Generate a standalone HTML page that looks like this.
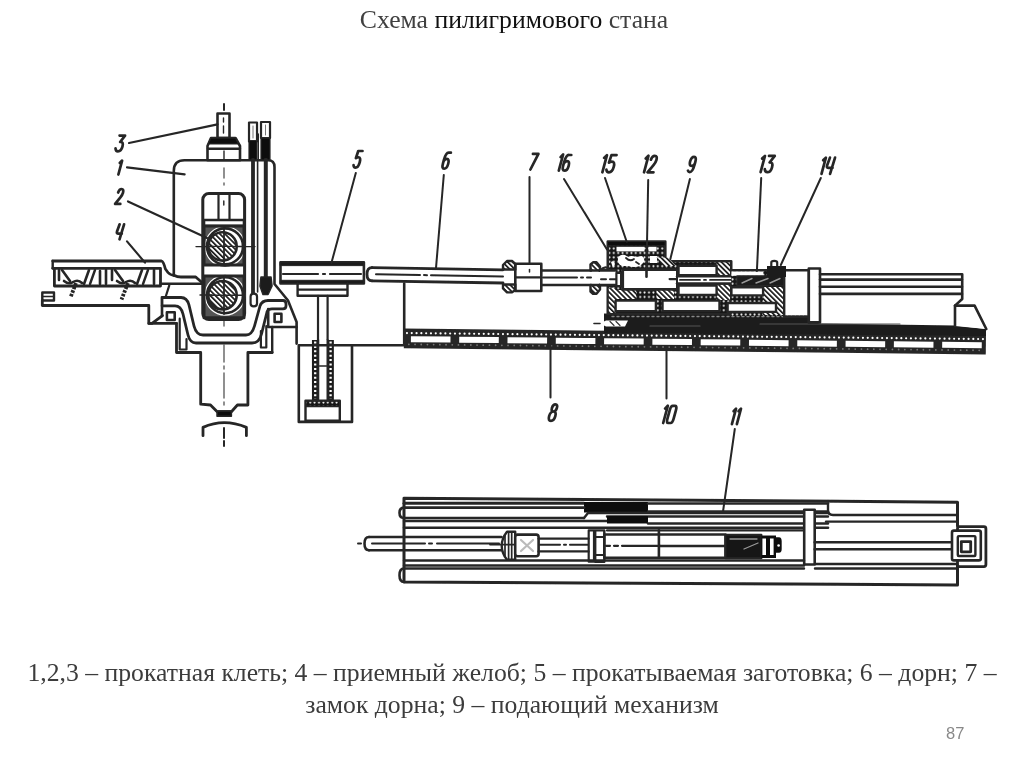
<!DOCTYPE html>
<html><head><meta charset="utf-8">
<style>
html,body{margin:0;padding:0;background:#fff;}
body{width:1024px;height:767px;position:relative;overflow:hidden;}
.t{position:absolute;left:0;width:1024px;will-change:transform;text-align:center;font-family:"Liberation Serif",serif;white-space:nowrap;}
#title{top:5px;font-size:25.7px;color:#404040;left:2px;}
#title b{font-weight:normal;color:#111;}
#cap{top:656.6px;font-size:25.7px;line-height:31.7px;color:#3c3c3c;}
#pn{position:absolute;will-change:transform;left:946.3px;top:724.2px;font-family:"Liberation Sans",sans-serif;font-size:16.5px;color:#888;}
svg{position:absolute;left:0;top:0;}
</style></head><body>
<div id="title" class="t">Схема <b>пилигримового</b> стана</div>
<div id="cap" class="t">1,2,3 – прокатная клеть; 4 – приемный желоб; 5 – прокатываемая заготовка; 6 – дорн; 7 –<br>замок дорна; 9 – подающий механизм</div>
<div id="pn">87</div>
<svg width="1024" height="767" viewBox="0 0 1024 767">
<defs><filter id="soft" x="-2%" y="-2%" width="104%" height="104%"><feGaussianBlur stdDeviation="0.45"/></filter><pattern id="hatch" patternUnits="userSpaceOnUse" width="3.6" height="3.6" patternTransform="rotate(-45)"><rect width="3.6" height="3.6" fill="#fff"/><rect width="1.7" height="3.6" fill="#1a1a1a"/></pattern><pattern id="dotdark" patternUnits="userSpaceOnUse" width="4.4" height="4.4"><rect width="4.4" height="4.4" fill="#161616"/><circle cx="2.2" cy="2.2" r="1" fill="#fff"/></pattern></defs>
<g id="d" filter="url(#soft)" fill="none" stroke="#262626" stroke-width="2.4" stroke-linecap="round" stroke-linejoin="round">
<!-- STAND -->
<g id="stand">
<!-- center dash-dot line -->
<path d="M224,104V110 M224,428V438 M224,441V446" stroke-width="2"/><path d="M224,150V154 M224,168V178 M224,183V185 M224,318V326 M224,345V362 M224,366V369 M224,373V398 M224,402V405" stroke-width="1.3" stroke="#555"/>
<!-- screw stem -->
<rect x="217.5" y="113.5" width="12" height="24.5" stroke-width="2.6"/>
<path d="M223.5,118V122 M223.5,126V133" stroke-width="1.4"/>
<!-- nut -->
<path d="M211,138H235.5L240,146V160.3H207.5V146Z" fill="#fff" stroke-width="2.6"/>
<path d="M211,138H235.5L238.5,144H208.5Z" fill="#111" stroke-width="1"/>
<path d="M208,148.8H240" stroke-width="2.4"/>
<path d="M224,151V159" stroke-width="1.4"/>
<!-- housing 1 -->
<path d="M173.8,275.5V171Q173.8,160.3 184.5,160.3H268Q274.5,160.3 274.5,167V284L288,300.5L296.6,322V343.6" stroke-width="2.6"/>
<!-- bars -->
<rect x="249" y="122.5" width="8" height="19" stroke-width="2.2"/>
<rect x="261" y="122" width="9" height="16" stroke-width="2.2"/>
<path d="M249,140.5H257V160H249Z M261,138H270V160H261Z" fill="#111" stroke-width="1.2"/>
<path d="M253,126V138 M265.5,125V135" stroke-width="1" stroke="#777"/>
<path d="M258.3,134V160" stroke-width="1.4"/>
<path d="M253,160V293" stroke-width="3.8"/>
<path d="M257.6,160V292" stroke-width="1.6"/>
<path d="M265.8,160V277" stroke-width="4"/>
<path d="M250.6,296.5Q250.6,293.7 253.8,293.7Q257,293.7 257,296.5V303.5Q257,306.4 253.8,306.4Q250.6,306.4 250.6,303.5Z" stroke-width="2.2" fill="#fff"/>
<path d="M261,277H271L272,286L268,294.5H263L260,286Z" fill="#1a1a1a" stroke-width="1.6"/>
<!-- window -->
<rect x="202.8" y="193.6" width="41.8" height="125.8" rx="6" stroke-width="3"/>
<path d="M218.5,194V219 M229.5,194V219" stroke-width="2.2"/>
<path d="M223.8,201V205" stroke-width="1.4"/>
<!-- upper chock -->
<path d="M204,220H244V226H204Z" fill="#fff" stroke-width="2.6"/>
<path d="M204,226H244V265H204Z M245.5,246.4A20.5,20.5 0 1,0 204.5,246.4A20.5,20.5 0 1,0 245.5,246.4Z" fill="#555" fill-rule="evenodd" stroke="none"/><path d="M204,226H244V265H204Z" stroke-width="3"/>
<!-- lower chock -->
<path d="M204,276H244V317.8H204Z M245.5,295.2A20.5,20.5 0 1,0 204.5,295.2A20.5,20.5 0 1,0 245.5,295.2Z" fill="#555" fill-rule="evenodd" stroke="none"/><path d="M204,276H244V317.8H204Z" stroke-width="3"/>
<!-- rolls -->
<circle cx="225" cy="246.4" r="18" stroke-width="2.6" fill="#fff"/>
<circle cx="225" cy="295.2" r="18" stroke-width="2.6" fill="#fff"/>
<circle cx="222.5" cy="246.4" r="14.2" fill="url(#hatch)" stroke-width="2.6"/>
<circle cx="222.5" cy="295.2" r="14.2" fill="url(#hatch)" stroke-width="2.6"/>
<path d="M224,228V265 M224,277V314" stroke-width="1.8"/>
<path d="M207,246.4H243 M207,295.2H243" stroke-width="1.4"/>
<path d="M196,246.6H212 M238,246.6H255 M200,295H212" stroke-width="1.4"/>
<!-- label leaders -->
<path d="M129,143L217.5,124.3" stroke-width="2.2"/>
<path d="M127,167.3L184.6,174.3" stroke-width="2.2"/>
<path d="M128,201.4L207,238" stroke-width="2.2"/>
<path d="M127,241.4L145,262.6" stroke-width="2.2"/>
<!-- trough 4 -->
<path d="M52.7,261H161.5Q163.5,261.5 165.4,269L168,272.5Q170,275 174.5,275.5Q177,277 181,277H195.7L202.5,283" stroke-width="2.8"/>
<path d="M52.7,268.3H160.5V286H54.4V268.3" stroke-width="2.8"/>
<path d="M52.7,261V268.3" stroke-width="2.4"/>
<path d="M160.5,283.8H202.8" stroke-width="2.6"/>
<g stroke-width="2.6">
<path d="M59,270V280 M62,270L70,281 M89,270L84,284 M100,271V284 M106,270V284 M112,270V280 M115,270L123,281 M142,270L137,284 M154,270V284"/>
<path d="M64,281Q69,285 73,282Q78,279 82,283 M117,281Q122,285 126,282Q131,279 135,283"/>
</g>
<path d="M95,270L90,284 M148,270L143,284" stroke-width="2.4"/>
<path d="M76,283L70.5,297.5 M128,283L121.5,299.5" stroke-width="3.8" stroke-dasharray="2.6 1.3" stroke-linecap="butt"/>
<!-- "=" piece -->
<path d="M42.3,292.5H54V300.5H42.3Z" stroke-width="2.4"/>
<path d="M43,296.5H53" stroke-width="1.6"/>
<!-- base -->
<path d="M42.3,300.5V305.5H148.8V323.4H152L162.5,315.6" stroke-width="2.8"/>
<path d="M169.3,285.3L165.9,296" stroke-width="2.2"/>
<!-- left ear -->
<path d="M148.8,323.4H176.5 M162,306V316" stroke-width="2.6"/>
<rect x="166.9" y="312.2" width="7.8" height="7.8" stroke-width="2.6"/>
<!-- curved band -->
<path d="M162,297.5H181Q187,297.5 189,305L194,326Q196.3,335 203,335H246Q252,335 254.5,326L260,306Q262,300.5 268,300.5H283Q286,300.5 286,304V306Q286,308.8 283,308.8H272Q268,308.8 267,312L261.5,334Q259.4,343 252,343H196Q190,343 188,335L183,314Q181,305.8 175,305.8H162Z" stroke-width="2.8"/>
<!-- right ear -->
<path d="M268.2,309V327H296.6" stroke-width="2.6"/>
<rect x="274.6" y="313.7" width="6.8" height="8.3" stroke-width="2.6"/>
<path d="M272.2,327V352.5" stroke-width="2.4"/>
<!-- slots -->
<path d="M179.7,318.7V349.5H186.5V339" stroke-width="2.2"/>
<path d="M260.9,331V347.5H266.3V326" stroke-width="2.2"/>
<!-- outer frame -->
<path d="M176.5,323.4V352.5H200.7V404.2L210.5,405L217.2,411.7H231.4L237.4,405H247.9V352.5H272.2" stroke-width="2.8"/>
<path d="M217,411H231.4V416.2H217Z" fill="#111" stroke-width="1.5"/>
<!-- bottom arch -->
<path d="M203,435.7V427.4Q224,418 246.4,427.4V435.7" stroke-width="2.8"/>
</g>

<!-- MIDDLE: billet 5, support, mandrel 6, lock 7 -->
<g id="mid">
<!-- billet 5 -->
<rect x="280.5" y="262.3" width="83.4" height="21.2" stroke-width="2.6"/>
<path d="M280.5,262.3H363.9V265.6H280.5Z M280.5,280.3H363.9V283.5H280.5Z" fill="#1a1a1a" stroke-width="1"/>
<path d="M283,274H318 M323,274H325 M330,274H361" stroke-width="2.2"/>
<!-- flange -->
<path d="M297.6,283.5V295.8H347.5V283.5 M298,289.6H347" stroke-width="2.4"/>
<!-- rod -->
<path d="M318,295.8V400 M327.6,295.8V400" stroke-width="2.2"/>
<path d="M320,370H326" stroke-width="1.4"/>
<!-- spring -->
<path d="M315.2,340V400 M330.6,340V400" stroke-width="6.5" stroke="#1a1a1a" stroke-linecap="butt"/>
<path d="M315.2,341.5V399 M330.6,341.5V399" stroke-width="2.3" stroke="#fff" stroke-dasharray="2 2.4" stroke-linecap="butt"/>
<rect x="318.2" y="340" width="9.4" height="60" fill="#fff" stroke="none"/>
<path d="M318.2,340V400 M327.6,340V400" stroke-width="2.2"/>
<path d="M319.5,366H326.5" stroke-width="1.6"/>
<!-- cylinder -->
<path d="M298.8,345.2V421.9H352V345.4 M298.8,345.2H404.2V283.5" stroke-width="2.6"/>
<rect x="305.5" y="400.8" width="34.3" height="20" stroke-width="2.4"/>
<path d="M306,401H339.5V406.5H306Z" fill="url(#dotdark)" stroke-width="1.4"/>
<!-- mandrel 6 (upper) -->
<path d="M372,267.6L503,269.8 M372,280.8L503,283" stroke-width="2.8"/>
<path d="M372,267.6Q367,267.6 367,274.2Q367,280.8 372,280.8" stroke-width="2.8"/>
<path d="M376,274.3L420,275 M424,275.1L427,275.2 M431,275.3L503,276.4" stroke-width="2"/>
<!-- lock 7 -->
<path d="M503,269.5V265L507,261H512L515.3,264V269.5Z M503,284.5V288.5L507,292.4H512L515.3,290V284.5Z" fill="url(#hatch)" stroke-width="2.4"/>
<rect x="515.3" y="263.7" width="26" height="27.3" stroke-width="2.6"/>
<path d="M516,277.4H541" stroke-width="2.2"/>
<path d="M529.5,269.5V272" stroke-width="1.5"/>
<!-- mandrel after lock -->
<path d="M541.3,270.5H591 M541.3,285H591" stroke-width="2.6"/>
<path d="M543,277.5H577 M581,277.5H583 M587,277.5H591" stroke-width="2"/>
<!-- thrust collar -->
<path d="M590.5,270.5V264.5L593,262.3H596.5L600,266.5V270.5Z M590.5,285V291.5L593,293.8H596.5L600,289.5V285Z" fill="url(#hatch)" stroke-width="2.4"/>
<path d="M600,270.5Q604,266 608,268" stroke-width="2.2"/>
<path d="M599.4,270.5H608 M599.4,285H608" stroke-width="2.4"/>
</g>

<!-- FEED MECHANISM 9-16, rail 8, right section -->
<g id="feed">
<!-- rail 8 -->
<g transform="rotate(0.6 404 329)">
<path d="M404,328.6H986V348.3H404Z" fill="#262626" stroke="none"/>
<path d="M407.0,333h0.01 M411.8,333h0.01 M416.6,333h0.01 M421.4,333h0.01 M426.2,333h0.01 M431.0,333h0.01 M435.8,333h0.01 M440.6,333h0.01 M445.4,333h0.01 M450.2,333h0.01 M455.0,333h0.01 M459.8,333h0.01 M464.6,333h0.01 M469.4,333h0.01 M474.2,333h0.01 M479.0,333h0.01 M483.8,333h0.01 M488.6,333h0.01 M493.4,333h0.01 M498.2,333h0.01 M503.0,333h0.01 M507.8,333h0.01 M512.6,333h0.01 M517.4,333h0.01 M522.2,333h0.01 M527.0,333h0.01 M531.8,333h0.01 M536.6,333h0.01 M541.4,333h0.01 M546.2,333h0.01 M551.0,333h0.01 M555.8,333h0.01 M560.6,333h0.01 M565.4,333h0.01 M570.2,333h0.01 M575.0,333h0.01 M579.8,333h0.01 M584.6,333h0.01 M589.4,333h0.01 M594.2,333h0.01 M599.0,333h0.01 M603.8,333h0.01 M608.6,333h0.01 M613.4,333h0.01 M618.2,333h0.01 M623.0,333h0.01 M627.8,333h0.01 M632.6,333h0.01 M637.4,333h0.01 M642.2,333h0.01 M647.0,333h0.01 M651.8,333h0.01 M656.6,333h0.01 M661.4,333h0.01 M666.2,333h0.01 M671.0,333h0.01 M675.8,333h0.01 M680.6,333h0.01 M685.4,333h0.01 M690.2,333h0.01 M695.0,333h0.01 M699.8,333h0.01 M704.6,333h0.01 M709.4,333h0.01 M714.2,333h0.01 M719.0,333h0.01 M723.8,333h0.01 M728.6,333h0.01 M733.4,333h0.01 M738.2,333h0.01 M743.0,333h0.01 M747.8,333h0.01 M752.6,333h0.01 M757.4,333h0.01 M762.2,333h0.01 M767.0,333h0.01 M771.8,333h0.01 M776.6,333h0.01 M781.4,333h0.01 M786.2,333h0.01 M791.0,333h0.01 M795.8,333h0.01 M800.6,333h0.01 M805.4,333h0.01 M810.2,333h0.01 M815.0,333h0.01 M819.8,333h0.01 M824.6,333h0.01 M829.4,333h0.01 M834.2,333h0.01 M839.0,333h0.01 M843.8,333h0.01 M848.6,333h0.01 M853.4,333h0.01 M858.2,333h0.01 M863.0,333h0.01 M867.8,333h0.01 M872.6,333h0.01 M877.4,333h0.01 M882.2,333h0.01 M887.0,333h0.01 M891.8,333h0.01 M896.6,333h0.01 M901.4,333h0.01 M906.2,333h0.01 M911.0,333h0.01 M915.8,333h0.01 M920.6,333h0.01 M925.4,333h0.01 M930.2,333h0.01 M935.0,333h0.01 M939.8,333h0.01 M944.6,333h0.01 M949.4,333h0.01 M954.2,333h0.01 M959.0,333h0.01 M963.8,333h0.01 M968.6,333h0.01 M973.4,333h0.01 M978.2,333h0.01 M983.0,333h0.01" stroke="#fff" stroke-width="2.2" stroke-linecap="round"/>
<path d="M409.0,344.3h0.01 M415.2,344.3h0.01 M421.4,344.3h0.01 M427.6,344.3h0.01 M433.8,344.3h0.01 M440.0,344.3h0.01 M446.2,344.3h0.01 M452.4,344.3h0.01 M458.6,344.3h0.01 M464.8,344.3h0.01 M471.0,344.3h0.01 M477.2,344.3h0.01 M483.4,344.3h0.01 M489.6,344.3h0.01 M495.8,344.3h0.01 M502.0,344.3h0.01 M508.2,344.3h0.01 M514.4,344.3h0.01 M520.6,344.3h0.01 M526.8,344.3h0.01 M533.0,344.3h0.01 M539.2,344.3h0.01 M545.4,344.3h0.01 M551.6,344.3h0.01 M557.8,344.3h0.01 M564.0,344.3h0.01 M570.2,344.3h0.01 M576.4,344.3h0.01 M582.6,344.3h0.01 M588.8,344.3h0.01 M595.0,344.3h0.01 M601.2,344.3h0.01 M607.4,344.3h0.01 M613.6,344.3h0.01 M619.8,344.3h0.01 M626.0,344.3h0.01 M632.2,344.3h0.01 M638.4,344.3h0.01 M644.6,344.3h0.01 M650.8,344.3h0.01 M657.0,344.3h0.01 M663.2,344.3h0.01 M669.4,344.3h0.01 M675.6,344.3h0.01 M681.8,344.3h0.01 M688.0,344.3h0.01 M694.2,344.3h0.01 M700.4,344.3h0.01 M706.6,344.3h0.01 M712.8,344.3h0.01 M719.0,344.3h0.01 M725.2,344.3h0.01 M731.4,344.3h0.01 M737.6,344.3h0.01 M743.8,344.3h0.01 M750.0,344.3h0.01 M756.2,344.3h0.01 M762.4,344.3h0.01 M768.6,344.3h0.01 M774.8,344.3h0.01 M781.0,344.3h0.01 M787.2,344.3h0.01 M793.4,344.3h0.01 M799.6,344.3h0.01 M805.8,344.3h0.01 M812.0,344.3h0.01 M818.2,344.3h0.01 M824.4,344.3h0.01 M830.6,344.3h0.01 M836.8,344.3h0.01 M843.0,344.3h0.01 M849.2,344.3h0.01 M855.4,344.3h0.01 M861.6,344.3h0.01 M867.8,344.3h0.01 M874.0,344.3h0.01 M880.2,344.3h0.01 M886.4,344.3h0.01 M892.6,344.3h0.01 M898.8,344.3h0.01 M905.0,344.3h0.01 M911.2,344.3h0.01 M917.4,344.3h0.01 M923.6,344.3h0.01 M929.8,344.3h0.01 M936.0,344.3h0.01 M942.2,344.3h0.01 M948.4,344.3h0.01 M954.6,344.3h0.01 M960.8,344.3h0.01 M967.0,344.3h0.01 M973.2,344.3h0.01 M979.4,344.3h0.01" stroke="#777" stroke-width="1.8" stroke-linecap="round"/>
<path d="M411.0,336.1H450.6V342.1H411.0Z M459.3,336.1H498.9V342.1H459.3Z M507.6,336.1H547.2V342.1H507.6Z M555.9,336.1H595.5V342.1H555.9Z M604.2,336.1H643.8V342.1H604.2Z M652.5,336.1H692.1V342.1H652.5Z M700.8,336.1H740.4V342.1H700.8Z M749.1,336.1H788.7V342.1H749.1Z M797.4,336.1H837.0V342.1H797.4Z M845.7,336.1H885.3V342.1H845.7Z M894.0,336.1H933.6V342.1H894.0Z M942.3,336.1H981.9V342.1H942.3Z" fill="#fff" stroke="none"/>
</g>
<!-- carriage dark base -->
<path d="M604,313.5L808,316L808,321L820,323.5L955,325.5L986,329L986,336L604,333Z" fill="#1e1e1e" stroke="none"/>
<path d="M600,323.5L606,320.5H628L625,326.5H606Z" fill="#fff" stroke="none"/>
<path d="M610,321.5L614,325.5M616,321.5L620,325.5" stroke="#333" stroke-width="1.2"/>
<path d="M594,323.5H600" stroke-width="1.6"/>
<path d="M612,316.5H800" stroke="#888" stroke-width="1.3" stroke-dasharray="2 3"/>
<path d="M650,326H700 M760,324H900" stroke="#555" stroke-width="1.2"/>
<!-- end block -->
<path d="M955,326V305.6H974.6L986.3,329" stroke-width="2.6" fill="#fff"/>
<!-- feed body -->
<path d="M607.8,241.5H665.3V261.3H731.2V314H607.8Z" fill="url(#dotdark)" stroke-width="2.6"/>
<path d="M607.8,241.5H665.3V245.8H607.8Z" fill="#111" stroke-width="1"/>
<g fill="#fff" stroke="none">
<rect x="616.5" y="246.8" width="28" height="4.6"/>
<rect x="648.5" y="246.8" width="8" height="4.6"/>
<path d="M618,258Q620,254 625,255L628,257Q631,255 636,257L642,256Q645,258 644,262L640,266Q634,268 628,266L622,266Q617,264 618,258Z M650,256H657V263H650Z M611,262Q614,260 615,264L613,268Z"/>
</g>
<path d="M626,258Q630,262 634,259 M636,262L639,264" stroke-width="1.8"/>
<path d="M656.5,257.5H668L676,266H664Z" fill="url(#hatch)" stroke="none"/>
<path d="M608.8,287.7H615.5V313H608.8Z M615.5,290H636V299H615.5Z M656.5,290H674V299H656.5Z" fill="url(#hatch)" stroke="none"/>
<path d="M716.6,262.5H730V300H716.6Z" fill="url(#hatch)" stroke="none"/>
<!-- mandrel in feed -->
<path d="M600,270.5H616 M600,285H616" stroke-width="2.6"/>
<path d="M600,274.8H616 M600,283.8H616" stroke-width="0"/>
<path d="M600,270.5H616V285H600Z" fill="#fff" stroke="none"/>
<path d="M600,270.5H616 M600,285H616" stroke-width="2.6"/>
<path d="M601,279.2H606 M610,279.2H616" stroke-width="2"/>
<rect x="616.4" y="272.9" width="4.7" height="13.2" fill="#fff" stroke-width="2.2"/>
<!-- piston 12 -->
<rect x="622.7" y="269.7" width="54.7" height="19.6" fill="#fff" stroke-width="2.8"/>
<path d="M646.5,269.7V276.8" stroke-width="2.6"/>
<path d="M669.6,279.1H677" stroke-width="2.2"/>
<!-- rod through feed -->
<path d="M677,276.3H737 M677,283.5H737" stroke-width="2.4"/>
<path d="M678,276.3H737V283.5H678Z" fill="#fff" stroke="none"/>
<path d="M677,276.3H737 M677,283.5H737" stroke-width="2.4"/>
<path d="M680,279.9H700 M704,279.9H706 M710,279.9H737" stroke-width="1.8"/>
<!-- white rects -->
<g fill="#fff" stroke-width="2.4">
<rect x="678.5" y="265.7" width="38.1" height="9.6"/>
<rect x="678.5" y="285.5" width="38.1" height="9.5"/>
<rect x="615.6" y="300.6" width="40.3" height="10.6"/>
<rect x="662.5" y="300.6" width="57" height="10.6"/>
</g>
<!-- right of body: section 13 -->
<path d="M731.2,270.2H784V316H731.2Z" fill="url(#dotdark)" stroke="none"/>
<path d="M731.2,270.2H808.8" stroke-width="2.6"/>
<rect x="731.4" y="271.5" width="32" height="4.3" fill="#fff" stroke="none"/>
<path d="M737,276H784V285.5H737Z" fill="#1a1a1a" stroke-width="1.6"/>
<g stroke="#999" stroke-width="1.4"><path d="M742,283L752,278.5 M756,283L768,278.5 M770,283L780,278.5"/></g>
<path d="M763,287H784V315H763Z" fill="url(#hatch)" stroke="none"/>
<g fill="#fff" stroke-width="2.4">
<rect x="731.4" y="287.2" width="31.7" height="8.2"/>
<rect x="727.6" y="303" width="48.4" height="8.9"/>
</g>
<rect x="784.2" y="270.2" width="24.6" height="46.5" fill="#fff" stroke-width="2.4"/>
<path d="M784.2,316.5H808.8" stroke-width="2.2" stroke-dasharray="2 2"/>
<!-- knob 14 -->
<path d="M771.3,270V262.5Q771.3,260.8 774.2,260.8Q777.2,260.8 777.2,262.5V270Z" fill="#fff" stroke-width="2.2"/>
<path d="M767,266H786V277H767Z" fill="#1a1a1a" stroke="none"/>
<!-- flange -->
<rect x="808.8" y="268.5" width="11.2" height="53.9" fill="#fff" stroke-width="2.6"/>
<!-- rods -->
<path d="M820,274.3H962.2V299L955,305.6" stroke-width="2.6"/>
<path d="M820,279.6H962 M820,286.7H962 M820,293.9H962" stroke-width="2.6"/>
<!-- leaders -->
<path d="M550.5,346V397.4" stroke-width="2"/>
<path d="M666.5,346V398.6" stroke-width="2"/>
</g>

<!-- BOTTOM ASSEMBLY -->
<g id="bottom">
<!-- frame -->
<path d="M404,498.3L957.5,502.2V526 M957.5,565V585L404,582V498.3" stroke-width="3"/>
<!-- top dark band -->
<path d="M404,503.2H584" stroke-width="3"/>
<path d="M584,502H648V512.5H584Z" fill="#111" stroke="none"/>
<path d="M648,503.5H828 M648,511.5H828" stroke-width="2.6"/>
<!-- left tube -->
<path d="M404,507.6H584 M404,518H584" stroke-width="2.6"/>
<path d="M404,507.6Q399.5,507.6 399.5,512.8Q399.5,518 404,518" stroke-width="2.6"/>
<path d="M584,518L588,513H828" stroke-width="2.4"/>
<path d="M404,521H607 M607,516.5H828 M828,503.5V510Q828,515 833,515H957 M826,521.6H957" stroke-width="2.4"/>
<path d="M607,516H648V523.5H607Z" fill="#111" stroke="none"/>
<path d="M648,523.5H828" stroke-width="2.4"/>
<path d="M404,527.8H828" stroke-width="2.6"/>
<path d="M607,530.4H805" stroke-width="2.2"/>
<!-- mandrel lower -->
<path d="M369,537H501.5 M369,550.3H501.5" stroke-width="2.6"/>
<path d="M369,537Q364.5,537 364.5,543.6Q364.5,550.3 369,550.3" stroke-width="2.6"/>
<path d="M358,543.6H361 M372,543.6H425 M429,543.6H432 M437,543.6H499" stroke-width="2"/>
<path d="M404,536.3V550.6" stroke-width="2"/>
<!-- lock lower -->
<path d="M507,531.7H515.2V559.8H507Q501.7,553 501.7,545.7Q501.7,538.5 507,531.7Z" fill="#fff" stroke-width="2.4"/>
<path d="M505,535.5V556 M508.6,532.5V559 M511.7,532.5V559" stroke-width="1.7"/>
<path d="M490,544.6H515" stroke-width="1.8"/>
<rect x="515.2" y="534.6" width="23.4" height="21.7" rx="2.5" fill="#fff" stroke-width="2.6"/>
<path d="M521,540L533,551 M533,540L521,551" stroke="#bbb" stroke-width="2.2"/>
<path d="M538.6,538.6H588.4 M538.6,551.4H588.4" stroke-width="2.4"/>
<path d="M540,544.8H560 M564,544.8H566 M570,544.8H588" stroke-width="2"/>
<rect x="588.7" y="530.4" width="5.3" height="31.3" stroke-width="2.2"/>
<rect x="595.2" y="530.4" width="9.1" height="31.3" stroke-width="2.4"/>
<path d="M595.2,537H604.3 M595.2,555H604.3" stroke-width="2"/>
<!-- feed lower -->
<rect x="604.3" y="534.5" width="121.2" height="23.3" stroke-width="2.6"/>
<path d="M658.9,530.4V557.8" stroke-width="2.6"/>
<path d="M606,545.8H610 M614,545.8H618 M622,545.8H660" stroke-width="2.2"/>
<path d="M660,546H725.5" stroke-width="2.6"/>
<path d="M725.5,534.8H761.4V558.3H725.5Z" fill="#151515" stroke-width="2"/>
<path d="M730,539H757 M744,549L758,543" stroke="#999" stroke-width="1.3"/>
<path d="M761.4,535.5H776V558H761.4Z" fill="#111" stroke="none"/>
<rect x="762.4" y="538.5" width="3.6" height="16.5" fill="#fff" stroke="none"/>
<rect x="770" y="538.5" width="3.6" height="16.5" fill="#fff" stroke="none"/>
<path d="M776,537.2H779Q781.7,537.2 781.7,541V549Q781.7,552.8 779,552.8H776Z" fill="#111" stroke="none"/>
<circle cx="778.6" cy="545.5" r="1.3" fill="#fff" stroke="none"/>
<!-- post -->
<rect x="804.2" y="509.7" width="10.5" height="54.8" fill="#fff" stroke-width="2.6"/>
<!-- rod to terminal -->
<path d="M814.7,542.2H961.5 M814.7,549.2H961.5" stroke-width="2.6"/>
<!-- terminal squares -->
<rect x="957.5" y="526.7" width="28.4" height="39.9" rx="2" fill="#fff" stroke-width="2.8"/>
<rect x="952" y="530.6" width="28.8" height="29.8" rx="2" fill="#fff" stroke-width="2.6"/>
<rect x="957.8" y="536.1" width="17.6" height="19.9" rx="1" stroke-width="2.4"/>
<rect x="961.3" y="541.6" width="9.4" height="10.2" stroke-width="2.8"/>
<path d="M815,564H957 M815,568.5H957" stroke-width="2.4"/>
<path d="M404,560.5H804 M404,565.5H804 M404,568.5H804" stroke-width="2.4"/>
<!-- lower tube -->
<path d="M404,568.5Q399.5,568.5 399.5,575.3Q399.5,582 404,582" stroke-width="2.6"/>
<!-- leader 11 -->
<path d="M734.8,429L722.8,513" stroke-width="2"/>
</g>

<g id="leaders" stroke-width="2">
<path d="M355.8,173L331.4,263"/>
<path d="M443.8,175L436,268"/>
<path d="M529.5,177V263.7"/>
<path d="M564,179L607,249.5"/>
<path d="M605,178L626.7,241.7"/>
<path d="M648.2,180L646.5,270"/>
<path d="M689.9,179L670.3,259.3"/>
<path d="M761.2,178L756.9,271"/>
<path d="M820.8,178L780.8,265"/>
</g>

<g id="labels" stroke-width="2.7">
<g transform="translate(118.91,135.60) skewX(-15) scale(0.649,0.981)"><path transform="translate(0.0,0)" d="M1,0H9.5L4.5,6.5Q10,6 10,11.2Q10,16 5,16Q1.5,16 0,13" vector-effect="non-scaling-stroke"/></g>
<g transform="translate(119.91,160.60) skewX(-15) scale(0.550,0.869)"><path transform="translate(0.0,0)" d="M0.8,2.6L4,0V16" vector-effect="non-scaling-stroke"/></g>
<g transform="translate(118.80,189.00) skewX(-15) scale(0.550,0.931)"><path transform="translate(0.0,0)" d="M0.5,3.8Q1,0 5,0Q9.5,0 9.5,4Q9.5,6.5 7,9L0.5,16H10" vector-effect="non-scaling-stroke"/></g>
<g transform="translate(118.81,224.30) skewX(-15) scale(0.550,0.937)"><path transform="translate(0.0,0)" d="M1.5,0L0.3,7.5Q0,10 3,10H10M9.6,0L8.6,16" vector-effect="non-scaling-stroke"/></g>
<g transform="translate(357.27,151.00) skewX(-15) scale(0.550,1.038)"><path transform="translate(0.0,0)" d="M9.5,0H1.8L1,7Q3,6 5,6Q10,6 10,11Q10,16 5,16Q1.5,16 0,13.5" vector-effect="non-scaling-stroke"/></g>
<g transform="translate(445.81,152.20) skewX(-15) scale(0.550,1.031)"><path transform="translate(0.0,0)" d="M9.5,0.5H6Q0.3,0 0.3,8V11Q0.3,16 5,16Q10,16 10,11.2Q10,6.5 5,6.5Q1.5,6.5 0.3,9" vector-effect="non-scaling-stroke"/></g>
<g transform="translate(532.94,153.90) skewX(-15) scale(0.550,0.975)"><path transform="translate(0.0,0)" d="M0,0H10L3,16" vector-effect="non-scaling-stroke"/></g>
<g transform="translate(560.84,154.50) skewX(-15) scale(0.572,1.013)"><path transform="translate(0.0,0)" d="M0.8,2.6L4,0V16" vector-effect="non-scaling-stroke"/><path transform="translate(9.0,0)" d="M9.5,0.5H6Q0.3,0 0.3,8V11Q0.3,16 5,16Q10,16 10,11.2Q10,6.5 5,6.5Q1.5,6.5 0.3,9" vector-effect="non-scaling-stroke"/></g>
<g transform="translate(604.31,155.10) skewX(-15) scale(0.663,1.075)"><path transform="translate(0.0,0)" d="M0.8,2.6L4,0V16" vector-effect="non-scaling-stroke"/><path transform="translate(9.0,0)" d="M9.5,0H1.8L1,7Q3,6 5,6Q10,6 10,11Q10,16 5,16Q1.5,16 0,13.5" vector-effect="non-scaling-stroke"/></g>
<g transform="translate(645.92,155.80) skewX(-15) scale(0.630,1.031)"><path transform="translate(0.0,0)" d="M0.8,2.6L4,0V16" vector-effect="non-scaling-stroke"/><path transform="translate(9.0,0)" d="M0.5,3.8Q1,0 5,0Q9.5,0 9.5,4Q9.5,6.5 7,9L0.5,16H10" vector-effect="non-scaling-stroke"/></g>
<g transform="translate(691.34,156.90) skewX(-15) scale(0.550,0.950)"><path transform="translate(0.0,0)" d="M0.5,14.5Q2,16 4.5,16Q9.7,16 9.7,8V5Q9.7,0 5,0Q0,0 0,4.8Q0,9.5 4.8,9.5Q8.5,9.5 9.7,7" vector-effect="non-scaling-stroke"/></g>
<g transform="translate(762.27,155.90) skewX(-15) scale(0.675,1.019)"><path transform="translate(0.0,0)" d="M0.8,2.6L4,0V16" vector-effect="non-scaling-stroke"/><path transform="translate(9.0,0)" d="M1,0H9.5L4.5,6.5Q10,6 10,11.2Q10,16 5,16Q1.5,16 0,13" vector-effect="non-scaling-stroke"/></g>
<g transform="translate(823.37,157.60) skewX(-15) scale(0.628,1.019)"><path transform="translate(0.0,0)" d="M0.8,2.6L4,0V16" vector-effect="non-scaling-stroke"/><path transform="translate(9.0,0)" d="M1.5,0L0.3,7.5Q0,10 3,10H10M9.6,0L8.6,16" vector-effect="non-scaling-stroke"/></g>
<g transform="translate(552.32,404.30) skewX(-15) scale(0.618,1.031)"><path transform="translate(0.0,0)" d="M5,7Q1,7 1,3.5Q1,0 5,0Q9,0 9,3.5Q9,7 5,7Q0,7 0,11.5Q0,16 5,16Q10,16 10,11.5Q10,7 5,7Z" vector-effect="non-scaling-stroke"/></g>
<g transform="translate(665.31,405.80) skewX(-15) scale(0.621,1.075)"><path transform="translate(0.0,0)" d="M0.8,2.6L4,0V16" vector-effect="non-scaling-stroke"/><path transform="translate(9.0,0)" d="M3,0H7Q10,0 10,4V12Q10,16 7,16H3Q0,16 0,12V4Q0,0 3,0Z" vector-effect="non-scaling-stroke"/></g>
<g transform="translate(733.84,408.70) skewX(-15) scale(0.550,0.963)"><path transform="translate(0.0,0)" d="M0.8,2.6L4,0V16" vector-effect="non-scaling-stroke"/><path transform="translate(9.0,0)" d="M0.8,2.6L4,0V16" vector-effect="non-scaling-stroke"/></g>
</g>
</g>
</svg>
</body></html>
